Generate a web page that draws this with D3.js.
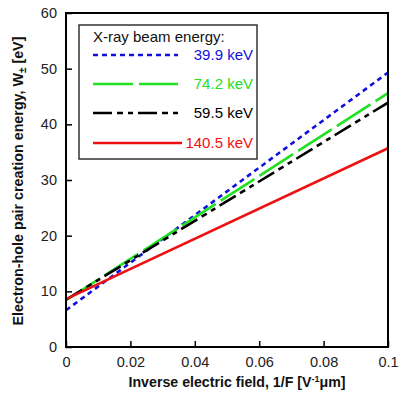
<!DOCTYPE html>
<html><head><meta charset="utf-8">
<script src="https://cdn.jsdelivr.net/npm/d3@7"></script>
<style>body{margin:0;background:#fff}svg{display:block;font-family:"Liberation Sans",Arial,sans-serif}</style>
</head><body><svg id="c" width="399" height="395"></svg>
<script>
const xTicks = [0, 0.02, 0.04, 0.06, 0.08, 0.1];
const xTickLabels = ["0", "0.02", "0.04", "0.06", "0.08", "0.1"];
const yTicks = [0, 10, 20, 30, 40, 50, 60];
const seriesNames = ["39.9 keV", "74.2 keV", "59.5 keV", "140.5 keV"];
const seriesColors = ["#1010e0", "#22e022", "#000000", "#ee1111"];
const seriesDash = ["5,4", "40,6", "19,5,6,5,5,5", null];
const invField = [0, 0.1];
const w399 = [6.6, 49.3];
const w742 = [8.4, 45.6];
const w595 = [8.5, 43.9];
const w1405 = [8.6, 35.7];
const seriesValues = [w399, w742, w595, w1405];

const svg = d3.select("#c");
const L = 66, R = 388, T = 13, B = 347;
const x = d3.scaleLinear().domain([0, 0.1]).range([L, R]);
const y = d3.scaleLinear().domain([0, 60]).range([B, T]);

const line = d3.line().x(d => x(d[0])).y(d => y(d[1]));
svg.append("clipPath").attr("id","cp").append("rect").attr("x",L).attr("y",T).attr("width",R-L).attr("height",B-T);
seriesValues.forEach((vals, i) => {
  svg.append("path").attr("clip-path","url(#cp)")
    .datum(invField.map((f, j) => [f, vals[j]]))
    .attr("d", line).attr("fill","none")
    .attr("stroke", seriesColors[i]).attr("stroke-width", 2.6)
    .attr("stroke-dasharray", seriesDash[i]);
});

const xAxis = d3.axisBottom(x).tickValues(xTicks).tickFormat((d,i)=>xTickLabels[i]).tickSizeInner(-6).tickSizeOuter(0).tickPadding(10);
const gx = svg.append("g").attr("transform",`translate(0,${B})`).call(xAxis);
const yAxis = d3.axisLeft(y).tickValues(yTicks).tickSizeInner(-6).tickSizeOuter(0).tickPadding(8);
const gy = svg.append("g").attr("transform",`translate(${L},0)`).call(yAxis);
[gx, gy].forEach(g => {
  g.select(".domain").remove();
  g.selectAll(".tick line").attr("stroke","#000").attr("stroke-width",1.5);
  g.selectAll(".tick text").attr("font-size",14.5).attr("fill","#222").attr("font-family","Liberation Sans, Arial, sans-serif");
});
gy.selectAll(".tick text").attr("dx", -1);

svg.append("rect").attr("x",L).attr("y",T).attr("width",R-L).attr("height",B-T)
  .attr("fill","none").attr("stroke","#000").attr("stroke-width",2);

const lg = svg.append("g");
lg.append("rect").attr("x",79).attr("y",25).attr("width",178).attr("height",134)
  .attr("fill","#fff").attr("stroke","#333").attr("stroke-width",1.5);
lg.append("text").attr("x",93).attr("y",42).attr("font-size",15).attr("fill","#111").text("X-ray beam energy:");
const legY = [55, 84, 113, 143];
const legX2 = [178, 178, 178, 182];
seriesNames.forEach((n, i) => {
  lg.append("line").attr("x1",93).attr("x2",legX2[i]).attr("y1",legY[i]).attr("y2",legY[i])
    .attr("stroke",seriesColors[i]).attr("stroke-width",2.6).attr("stroke-dasharray",seriesDash[i]);
  lg.append("text").attr("x",253).attr("y",legY[i]+5).attr("text-anchor","end")
    .attr("font-size",15).attr("fill",seriesColors[i]).text(n);
});

const xt = svg.append("text").attr("x",237).attr("y",387).attr("text-anchor","middle")
  .attr("font-size",14.2).attr("font-weight","bold").attr("fill","#111");
xt.append("tspan").text("Inverse electric field, 1/F [V");
xt.append("tspan").attr("dy",-5).attr("font-size",9).text("-1");
xt.append("tspan").attr("dy",5).text("\u03BCm]");

const yt = svg.append("text").attr("transform","translate(23,181) rotate(-90)").attr("text-anchor","middle")
  .attr("font-size",14.3).attr("font-weight","bold").attr("fill","#111");
yt.append("tspan").text("Electron-hole pair creation energy, W");
yt.append("tspan").attr("dy",3).attr("font-size",10).text("\u00B1");
yt.append("tspan").attr("dy",-3).text(" [eV]");
</script></body></html>
